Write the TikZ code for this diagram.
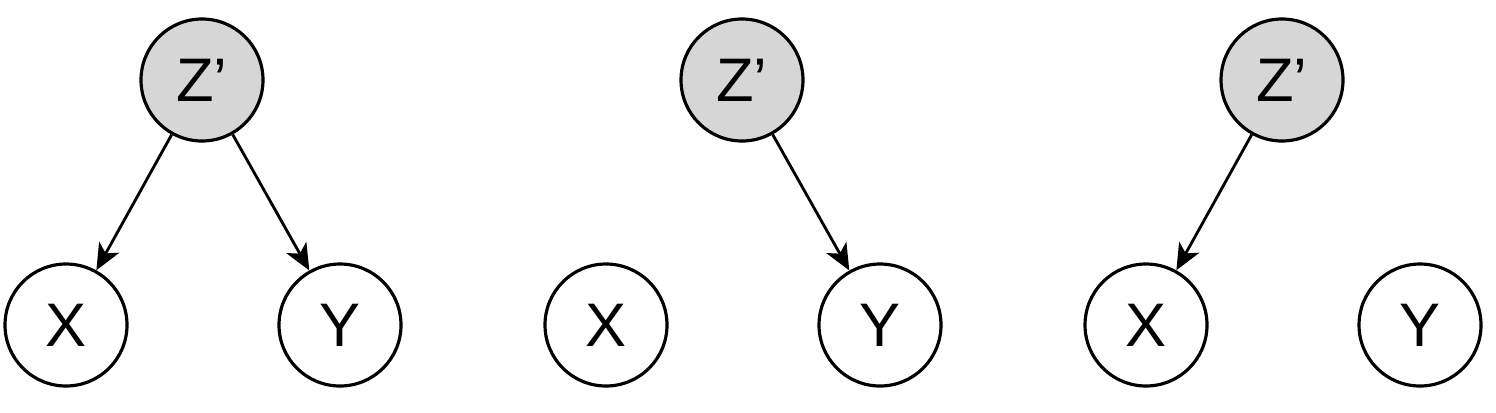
\documentclass[tikz,border=0pt]{standalone}
\usepackage{fontspec}
\setmainfont{Liberation Sans}
\usetikzlibrary{arrows.meta}
\begin{document}
\begin{tikzpicture}[
		var/.style={circle, draw, line width=0.9pt, minimum size=1.22cm, inner sep=0pt, font=\fontsize{17.5}{20}\selectfont},
		hid/.style={var, fill=black!16},
		edge/.style={-{Stealth[length=7.5pt, width=6.5pt, inset=2pt]}, line width=0.8pt}
	]
	\useasboundingbox (0,0) rectangle (14.96,4.12);
	% premier graphe
	\node[hid] (Za) at (2.02,3.32) {Z’};
	\node[var] (Xa) at (0.66,0.87) {X};
	\node[var] (Ya) at (3.40,0.87) {Y};
	% deuxieme graphe
	\node[hid] (Zb) at (7.42,3.32) {Z’};
	\node[var] (Xb) at (6.06,0.87) {X};
	\node[var] (Yb) at (8.80,0.87) {Y};
	% troisieme graphe
	\node[hid] (Zc) at (12.82,3.32) {Z’};
	\node[var] (Xc) at (11.46,0.87) {X};
	\node[var] (Yc) at (14.20,0.87) {Y};
	% fleches
	\draw[edge] (Za) -- (Xa);
	\draw[edge] (Za) -- (Ya);
	\draw[edge] (Zb) -- (Yb);
	\draw[edge] (Zc) -- (Xc);
\end{tikzpicture}
\end{document}
